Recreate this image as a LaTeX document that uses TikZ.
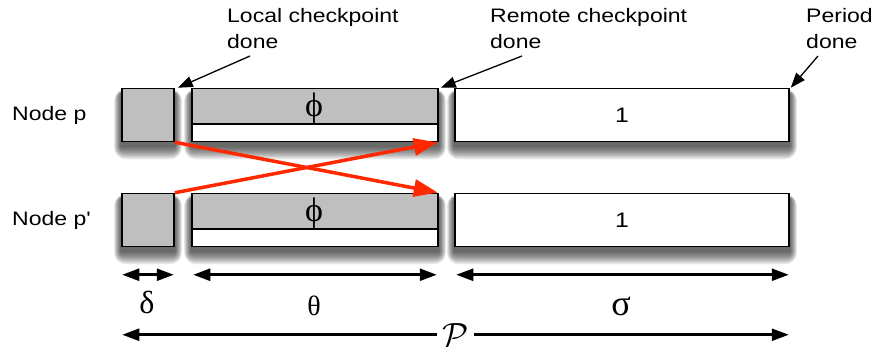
\documentclass[tikz,border=0pt]{standalone}
\usepackage{graphicx}
\usepackage{fontspec}
\setmainfont{Liberation Sans}
\newfontfamily\grk{Liberation Serif}
\usetikzlibrary{arrows.meta,calc,backgrounds}
\definecolor{boxgray}{RGB}{191,191,191}
\definecolor{arrred}{RGB}{255,40,0}
\newcommand\wid[1]{\scalebox{1.18}[1]{#1}}
\newcommand\softshadow[1]{%
  \foreach \r in {1,...,12}{%
    \fill[black, opacity=0.07, rounded corners=\r pt]
      ($(#1.north west)+(-\r*0.6,6-\r*0.4)$) rectangle ($(#1.south east)+(\r*0.6,4+\r*1.1)$);
  }}
\tikzset{
  lbl/.style={font=\fontsize{19.5}{26}\selectfont, align=left, inner sep=0pt},
  gbox/.style={draw=black, line width=1.5pt, fill=boxgray, inner sep=0pt},
  wbox/.style={draw=black, line width=1.5pt, fill=white, inner sep=0pt},
  gtop/.style={draw=black, line width=1.5pt, fill=boxgray, inner sep=0pt},
  callout/.style={line width=1.3pt, -{Triangle[length=15pt, width=11pt]}},
  dim/.style={line width=2.5pt, {Triangle[length=17pt, width=12pt]}-{Triangle[length=17pt, width=12pt]}},
  redarr/.style={draw=arrred, line width=3.5pt, -{Triangle[length=24pt, width=17pt]}, shorten >=1pt},
  greek/.style={font=\grk\fontsize{28}{30}\selectfont, inner sep=0pt},
  phi/.style={font=\grk\fontsize{34}{36}\selectfont, inner sep=0pt},
}
\begin{document}
\begin{tikzpicture}[x=1pt,y=-1pt]
\useasboundingbox (0,0) rectangle (876,347);

% row labels
\node[lbl, anchor=west] (np) at (12,115) {\wid{Node p}};
\node[lbl, anchor=west] (nq) at (12,220) {\wid{Node p\textquotesingle}};

% row p
\node[gbox, minimum width=52pt, minimum height=53pt] (dp) at (148,115) {};
\node[wbox, minimum width=246pt, minimum height=53pt] (tp) at (315,115) {};
\node[gtop, minimum width=246pt, minimum height=35.5pt, anchor=north] (tpg) at (tp.north) {};
\node[wbox, minimum width=334pt, minimum height=53pt] (sp) at (622,115) {};
\node[lbl, font=\fontsize{21}{24}\selectfont] (onep) at (sp.center) {\wid{1}};
\node[phi] (php) at (314,108) {ϕ};

% row p'
\node[gbox, minimum width=52pt, minimum height=53pt] (dq) at (148,220) {};
\node[wbox, minimum width=246pt, minimum height=53pt] (tq) at (315,220) {};
\node[gtop, minimum width=246pt, minimum height=35.5pt, anchor=north] (tqg) at (tq.north) {};
\node[wbox, minimum width=334pt, minimum height=53pt] (sq) at (622,220) {};
\node[lbl, font=\fontsize{21}{24}\selectfont] (oneq) at (sq.center) {\wid{1}};
\node[phi] (phq) at (314,213) {ϕ};

% shadows
\begin{scope}[on background layer]
  \softshadow{dp}\softshadow{tp}\softshadow{sp}
  \softshadow{dq}\softshadow{tq}\softshadow{sq}
\end{scope}

% callouts
\node[lbl, anchor=north west] (lcd) at (227,8) {\wid{Local checkpoint}\\\wid{done}};
\node[lbl, anchor=north west] (rcd) at (490,8) {\wid{Remote checkpoint}\\\wid{done}};
\node[lbl, anchor=north west] (pd) at (806,8) {\wid{Period}\\\wid{done}};
\coordinate (lcs) at (250,56);
\coordinate (rcs) at (522,56);
\coordinate (pds) at (818,56);
\draw[callout] (lcs) -- ($(dp.north east)+(3,0)$);
\draw[callout] (rcs) -- ($(tp.north east)+(2,0)$);
\draw[callout] (pds) -- ($(sp.north east)+(1,0)$);

% red arrows
\draw[redarr] (dp.south east) -- (tq.north east);
\draw[redarr] (dq.north east) -- (tp.south east);

% dimensions
\draw[dim] ($(dq.south west)+(1,27.5)$) -- ($(dq.south east)+(-1,27.5)$);
\draw[dim] ($(tq.south west)+(2,27.5)$) -- ($(tq.south east)+(-2,27.5)$);
\draw[dim] ($(sq.south west)+(2,27.5)$) -- ($(sq.south east)+(-1,27.5)$);
\node[greek, font=\grk\fontsize{32}{34}\selectfont] (del) at (147,302) {δ};
\node[greek] (the) at (314,306) {θ};
\node[greek, font=\grk\fontsize{36}{38}\selectfont] (sig) at (621,306) {σ};
\draw[dim] ($(dq.south west)+(1,87.5)$) -- node[fill=white, inner xsep=5pt, inner ysep=0pt] (pp) {\scalebox{1.35}{\fontsize{24.88}{26}\selectfont$\mathcal{P}$}} ($(sq.south east)+(-1,87.5)$);
\end{tikzpicture}
\end{document}
